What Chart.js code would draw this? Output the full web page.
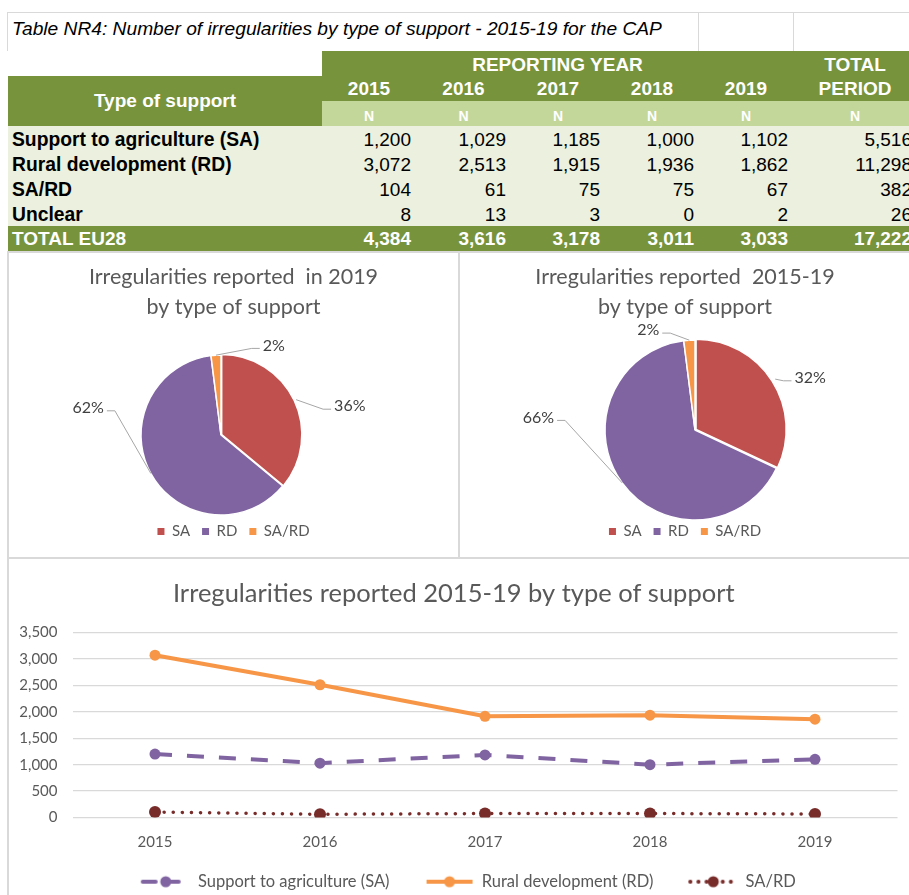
<!DOCTYPE html>
<html>
<head>
<meta charset="utf-8">
<title>Irregularities by type of support</title>
<script src="https://cdn.jsdelivr.net/npm/chart.js@4.4.1/dist/chart.umd.min.js"></script>
<style>
  body { margin: 0; width: 909px; height: 895px; overflow: hidden; background: #fff; position: relative; }
  #sheet { position: absolute; left: 0; top: 0; width: 909px; height: 895px; font-family: "Liberation Sans", Arial, sans-serif; }
  .cell { position: absolute; box-sizing: border-box; white-space: nowrap; overflow: visible; }
  .line { position: absolute; background: #d9d9d9; }
  canvas { position: absolute; }
</style>
</head>
<body>
<div id="sheet"></div>
<canvas id="pie2019" width="447" height="302" style="left:10px;top:254px"></canvas>
<canvas id="pieTotal" width="448" height="302" style="left:461px;top:254px"></canvas>
<canvas id="trend" width="899" height="336" style="left:10px;top:560px"></canvas>
<script>
// table data
const years = ['2015', '2016', '2017', '2018', '2019']
const supportTypes = ['Support to agriculture (SA)', 'Rural development (RD)', 'SA/RD', 'Unclear']
const saCounts = [1200, 1029, 1185, 1000, 1102]
const rdCounts = [3072, 2513, 1915, 1936, 1862]
const sardCounts = [104, 61, 75, 75, 67]
const unclearCounts = [8, 13, 3, 0, 2]

// pie data (shares in %)
const pieLabels = ['SA', 'RD', 'SA/RD']
const share2019 = [36, 62, 2]
const shareTotal = [32, 66, 2]

// line chart series names
const seriesNames = ['Support to agriculture (SA)', 'Rural development (RD)', 'SA/RD']

const fmt = (v) => v.toLocaleString('en-US')
const sum = (a) => a.reduce((s, v) => s + v, 0)

/* ---------- the spreadsheet table ---------- */
const sheet = document.getElementById('sheet')
function cell(txt, x, y, w, h, css) {
  let d = document.createElement('div')
  d.className = 'cell'
  d.style.cssText = `left:${x}px;top:${y}px;width:${w}px;height:${h}px;line-height:${h}px;` + (css || '')
  d.textContent = txt
  sheet.appendChild(d)
}
function rule(x, y, w, h) {
  let d = document.createElement('div')
  d.className = 'line'
  d.style.cssText = `left:${x}px;top:${y}px;width:${w}px;height:${h}px;`
  sheet.appendChild(d)
}

const DARK = '#77933c', LIGHT = '#c4d79b', PALE = '#ebf1de'
const cols = [[322, 94], [416, 95], [511, 94], [605, 94], [699, 94], [793, 124]]

// title row
rule(7, 12, 910, 1); rule(7, 12, 1, 39); rule(698, 12, 1, 39); rule(793, 12, 1, 39)
cell('Table NR4: Number of irregularities by type of support - 2015-19 for the CAP', 12, 11, 680, 36,
  'font-style:italic;font-size:19.2px;color:#000;')

// header blocks
cell('', 322, 51, 600, 50, `background:${DARK};`)
cell('', 8, 76, 314, 50, `background:${DARK};`)
cell('', 322, 101, 600, 25, `background:${LIGHT};`)
cell('', 8, 126, 914, 100, `background:${PALE};`)
cell('', 8, 226, 914, 25, `background:${DARK};`)

const hdr = 'font-weight:bold;color:#fff;text-align:center;'
cell('Type of support', 8, 76, 314, 50, hdr + 'font-size:19px;')
cell('REPORTING YEAR', 322, 52, 471, 25, hdr + 'font-size:19px;')
cell('TOTAL', cols[5][0], 52, cols[5][1], 25, hdr + 'font-size:19px;')
years.forEach((y, i) => cell(y, cols[i][0], 77, cols[i][1], 24, hdr + 'font-size:19px;'))
cell('PERIOD', cols[5][0], 77, cols[5][1], 24, hdr + 'font-size:19px;')
cols.forEach((c) => cell('N', c[0], 104, c[1], 25, hdr + 'font-size:14px;'))

// body rows
const rows = [saCounts, rdCounts, sardCounts, unclearCounts]
rows.forEach((vals, r) => {
  let top = 127 + r * 25
  cell(supportTypes[r], 12, top, 300, 25, 'font-weight:bold;font-size:19.3px;color:#000;')
  vals.concat([sum(vals)]).forEach((v, i) => {
    cell(fmt(v), cols[i][0], top, cols[i][1], 25, 'text-align:right;padding-right:5px;font-size:19px;color:#000;')
  })
})
// total row
const colTotals = years.map((y, i) => sum(rows.map((r) => r[i])))
cell('TOTAL EU28', 12, 226, 300, 25, 'font-weight:bold;font-size:19px;color:#fff;')
colTotals.concat([sum(colTotals)]).forEach((v, i) => {
  cell(fmt(v), cols[i][0], 226, cols[i][1], 25, 'text-align:right;padding-right:5px;font-weight:bold;font-size:19px;color:#fff;')
})

// chart frame borders
rule(7, 251, 910, 2)
rule(7, 251, 2, 650)
rule(458, 251, 2, 307)
rule(7, 557, 910, 2)

/* ---------- pie charts ---------- */
const FONT = 'Lato, "Noto Sans", sans-serif'
const GREY = '#595959'
const pieColors = ['#c0504d', '#8064a2', '#f79646']

// puts the pie centre where the Excel chart has it
const pieCentre = {
  id: 'pieCentre',
  afterLayout(chart, args, opts) {
    let ca = chart.chartArea
    let half = opts.r + 12
    ca.left = opts.cx - half; ca.right = opts.cx + half
    ca.top = opts.cy - half; ca.bottom = opts.cy + half
    ca.width = half * 2; ca.height = half * 2
  }
}

// percentage labels with leader lines
const pieLabelsPlugin = {
  id: 'pieLabels',
  afterDatasetsDraw(chart, args, opts) {
    let ctx = chart.ctx
    let meta = chart.getDatasetMeta(0)
    let values = chart.data.datasets[0].data
    ctx.save()
    ctx.font = '16px ' + FONT
    ctx.textBaseline = 'middle'
    ctx.textAlign = 'center'
    meta.data.forEach((arc, i) => {
      let p = arc.getProps(['x', 'y', 'startAngle', 'endAngle', 'outerRadius'])
      let off = arc.options.offset || 0
      let mid = (p.startAngle + p.endAngle) / 2
      let ex = p.x + Math.cos(mid) * (p.outerRadius + off)
      let ey = p.y + Math.sin(mid) * (p.outerRadius + off)
      let lx = p.x + opts.at[i][0] * p.outerRadius
      let ly = p.y + opts.at[i][1] * p.outerRadius
      let txt = values[i] + '%'
      let hw = ctx.measureText(txt).width / 2
      let dir = lx > ex ? -1 : 1
      let near = lx + dir * (hw + 3)
      ctx.strokeStyle = '#a6a6a6'
      ctx.lineWidth = 1
      ctx.beginPath()
      ctx.moveTo(ex, ey)
      ctx.lineTo(near + dir * 8, ly + 3)
      ctx.lineTo(near, ly + 3)
      ctx.stroke()
      ctx.fillStyle = '#404040'
      ctx.fillText(txt, lx, ly)
    })
    ctx.restore()
  }
}

function makePie(id, title, shares, radius, explode, centre, labelAt) {
  new Chart(document.getElementById(id), {
    type: 'pie',
    data: {
      labels: pieLabels,
      datasets: [{
        data: shares,
        backgroundColor: pieColors,
        borderColor: '#fff',
        borderWidth: 1.5,
        offset: [explode, 0, 0],
      }],
    },
    options: {
      responsive: false,
      animation: false,
      radius: radius,
      layout: { padding: { bottom: 7 } },
      plugins: {
        title: {
          display: true,
          text: title,
          color: GREY,
          font: { family: FONT, size: 21.5, weight: 'normal', lineHeight: 1.4 },
          padding: { top: 8, bottom: 0 },
        },
        legend: {
          position: 'bottom',
          labels: {
            color: GREY,
            font: { family: FONT, size: 15 },
            boxWidth: 7,
            boxHeight: 7,
            padding: 12,
            generateLabels(chart) {
              let items = Chart.overrides.pie.plugins.legend.labels.generateLabels(chart)
              return items.map((it) => Object.assign(it, { lineWidth: 0 }))
            },
          },
        },
        tooltip: { enabled: false },
        pieCentre: centre,
        pieLabels: { at: labelAt },
      },
    },
    plugins: [pieCentre, pieLabelsPlugin],
  })
}

makePie('pie2019', ['Irregularities reported  in 2019', 'by type of support'], share2019, 80, 3,
  { cx: 211, cy: 181, r: 80 }, [[1.61, -0.36], [-1.66, -0.34], [0.66, -1.12]])
makePie('pieTotal', ['Irregularities reported  2015-19', 'by type of support'], shareTotal, 90, 5,
  { cx: 234, cy: 176, r: 90 }, [[1.28, -0.58], [-1.74, -0.14], [-0.52, -1.11]])

/* ---------- line chart ---------- */
const lineColors = ['#8064a2', '#f79646', '#772c2a']

// legend icon: a short line in the series style with its marker in the middle
function legendIcon(color, dash, cap) {
  let c = document.createElement('canvas')
  c.width = 78; c.height = 14
  let g = c.getContext('2d')
  g.strokeStyle = color
  g.lineWidth = 4
  g.lineCap = cap
  g.setLineDash(dash)
  g.beginPath(); g.moveTo(31, 7); g.lineTo(77, 7); g.stroke()
  g.setLineDash([])
  g.fillStyle = color
  g.beginPath(); g.arc(54, 7, 5.5, 0, Math.PI * 2); g.fill()
  return c
}
const icons = [
  legendIcon(lineColors[0], [13, 10], 'round'),
  legendIcon(lineColors[1], [], 'butt'),
  legendIcon(lineColors[2], [0.1, 8], 'round'),
]

new Chart(document.getElementById('trend'), {
  type: 'line',
  data: {
    labels: years,
    datasets: [
      {
        label: seriesNames[0],
        data: saCounts,
        borderColor: lineColors[0],
        backgroundColor: lineColors[0],
        borderWidth: 4,
        borderDash: [17, 15],
        pointRadius: 5.5,
        pointBorderWidth: 0,
      },
      {
        label: seriesNames[1],
        data: rdCounts,
        borderColor: lineColors[1],
        backgroundColor: lineColors[1],
        borderWidth: 4,
        pointRadius: 5.5,
        pointBorderWidth: 0,
      },
      {
        label: seriesNames[2],
        data: sardCounts,
        borderColor: lineColors[2],
        backgroundColor: lineColors[2],
        borderWidth: 3.5,
        borderDash: [0.1, 9],
        borderCapStyle: 'round',
        pointRadius: 6,
        pointBorderWidth: 0,
      },
    ],
  },
  options: {
    responsive: false,
    animation: false,
    layout: { padding: { right: 11.5, bottom: -4 } },
    scales: {
      x: {
        offset: true,
        grid: { display: false, drawTicks: false },
        border: { display: false },
        ticks: { color: GREY, font: { family: FONT, size: 15 }, padding: 16 },
        afterFit(s) { s.height = 50 },
      },
      y: {
        min: 0,
        max: 3500,
        grid: { color: '#d9d9d9', lineWidth: 1.3, drawTicks: false },
        border: { display: false },
        ticks: {
          stepSize: 500,
          color: GREY,
          font: { family: FONT, size: 15 },
          padding: 15,
          callback: (v) => fmt(v),
        },
        afterFit(s) { s.width = 62.5 },
      },
    },
    plugins: {
      title: {
        display: true,
        text: 'Irregularities reported 2015-19 by type of support',
        color: GREY,
        font: { family: FONT, size: 25.5, weight: 'normal', lineHeight: 1.2 },
        padding: { top: 18, bottom: 24 },
      },
      legend: {
        position: 'bottom',
        labels: {
          color: GREY,
          font: { family: FONT, size: 16.5 },
          usePointStyle: true,
          pointStyleWidth: 78,
          padding: 6,
          generateLabels(chart) {
            let items = Chart.defaults.plugins.legend.labels.generateLabels(chart)
            return items.map((it, i) => Object.assign(it, { pointStyle: icons[i] }))
          },
        },
      },
      tooltip: { enabled: false },
    },
  },
})
</script>
</body>
</html>
